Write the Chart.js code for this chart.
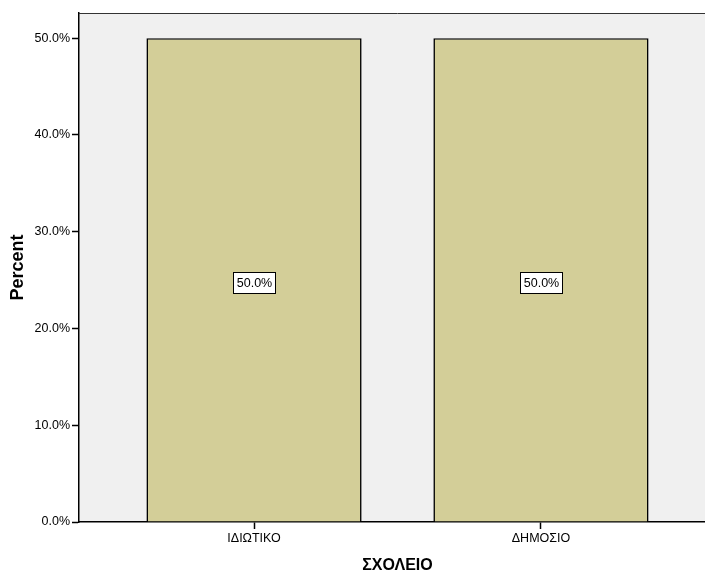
<!DOCTYPE html>
<html>
<head>
<meta charset="utf-8">
<script src="https://cdn.jsdelivr.net/npm/chart.js@4/dist/chart.umd.min.js"></script>
<style>
  html, body { margin: 0; padding: 0; background: #fff; overflow: hidden; width: 705px; height: 575px; }
  canvas { display: block; }
</style>
</head>
<body>
<canvas id="c" width="730" height="575"></canvas>
<script>
const categories = ['ΙΔΙΩΤΙΚΟ', 'ΔΗΜΟΣΙΟ'];
const percentValues = [50.0, 50.0];
const yTickValues = [0, 10, 20, 30, 40, 50];
const xTitle = 'ΣΧΟΛΕΙΟ';
const yTitle = 'Percent';

const FONT = '"Liberation Sans", Arial, sans-serif';

const bgPlugin = {
  id: 'bg',
  beforeDraw(chart) {
    const {ctx, chartArea: a} = chart;
    ctx.save();
    ctx.fillStyle = '#F0F0F0';
    ctx.fillRect(a.left, a.top, a.right - a.left, a.bottom - a.top);
    ctx.restore();
  },
  afterDraw(chart) {
    const {ctx, chartArea: a} = chart;
    ctx.save();
    ctx.strokeStyle = '#333';
    ctx.lineWidth = 1;
    ctx.beginPath();
    ctx.moveTo(a.left, a.top + 0.5);
    ctx.lineTo(a.right, a.top + 0.5);
    ctx.stroke();
    ctx.restore();
  }
};

const labelPlugin = {
  id: 'barLabels',
  afterDatasetsDraw(chart) {
    const {ctx} = chart;
    const meta = chart.getDatasetMeta(0);
    ctx.save();
    ctx.font = '12.5px ' + FONT;
    ctx.textAlign = 'center';
    ctx.textBaseline = 'middle';
    meta.data.forEach((bar, i) => {
      const txt = percentValues[i].toFixed(1) + '%';
      const cx = Math.round(bar.x);
      const cy = Math.round((bar.y + bar.base) / 2) + 2;
      const w = 42;
      const h = 21;
      const x0 = Math.round(cx - w / 2);
      const y0 = Math.round(cy - h / 2);
      ctx.fillStyle = '#fff';
      ctx.fillRect(x0, y0, w, h);
      ctx.strokeStyle = '#000';
      ctx.lineWidth = 1;
      ctx.strokeRect(x0 + 0.5, y0 + 0.5, w, h);
      ctx.fillStyle = '#000';
      ctx.fillText(txt, cx + 0.5, cy + 1.5);
    });
    ctx.restore();
  }
};

new Chart(document.getElementById('c'), {
  type: 'bar',
  data: {
    datasets: [{
      data: categories.map((c, i) => ({x: i, y: percentValues[i]})),
      backgroundColor: '#D3CE98',
      borderColor: '#000',
      borderWidth: 1.6,
      barPercentage: 0.75,
      categoryPercentage: 1.0
    }]
  },
  options: {
    responsive: false,
    animation: false,
    layout: { padding: { left: 0, right: 14, top: 13, bottom: 0 } },
    plugins: { legend: { display: false }, tooltip: { enabled: false } },
    scales: {
      x: {
        type: 'linear',
        min: -0.61,
        max: 1.61,
        offset: false,
        afterBuildTicks(scale) { scale.ticks = categories.map((c, i) => ({value: i})); },
        afterFit(scale) { scale.height = 53; },
        ticks: {
          callback: (v) => categories[v] !== undefined ? categories[v] : '',
          color: '#000',
          font: { family: FONT, size: 12.5 },
          padding: 2,
          maxRotation: 0,
          autoSkip: false
        },
        grid: { offset: false, drawOnChartArea: false, drawTicks: true, tickLength: 7, color: '#000', tickWidth: 1.5 },
        border: { display: true, color: '#000', width: 1.5 },
        title: {
          display: true,
          text: xTitle,
          color: '#000',
          font: { family: FONT, size: 16, weight: 'bold' },
          padding: { top: 0, bottom: 0 }
        }
      },
      y: {
        min: 0,
        max: 52.6,
        afterBuildTicks(scale) { scale.ticks = yTickValues.map(v => ({value: v})); },
        afterFit(scale) { scale.width = 79; },
        ticks: {
          callback: (v) => v.toFixed(1) + '%',
          color: '#000',
          font: { family: FONT, size: 12.5 },
          padding: 2
        },
        grid: { drawOnChartArea: false, drawTicks: true, tickLength: 7, color: '#000', tickWidth: 1.5 },
        border: { display: true, color: '#000', width: 1.5 },
        title: {
          display: true,
          text: yTitle,
          color: '#000',
          font: { family: FONT, size: 18, weight: 'bold' },
          padding: { top: 7, bottom: 0 }
        }
      }
    }
  },
  plugins: [bgPlugin, labelPlugin]
});
</script>
</body>
</html>
